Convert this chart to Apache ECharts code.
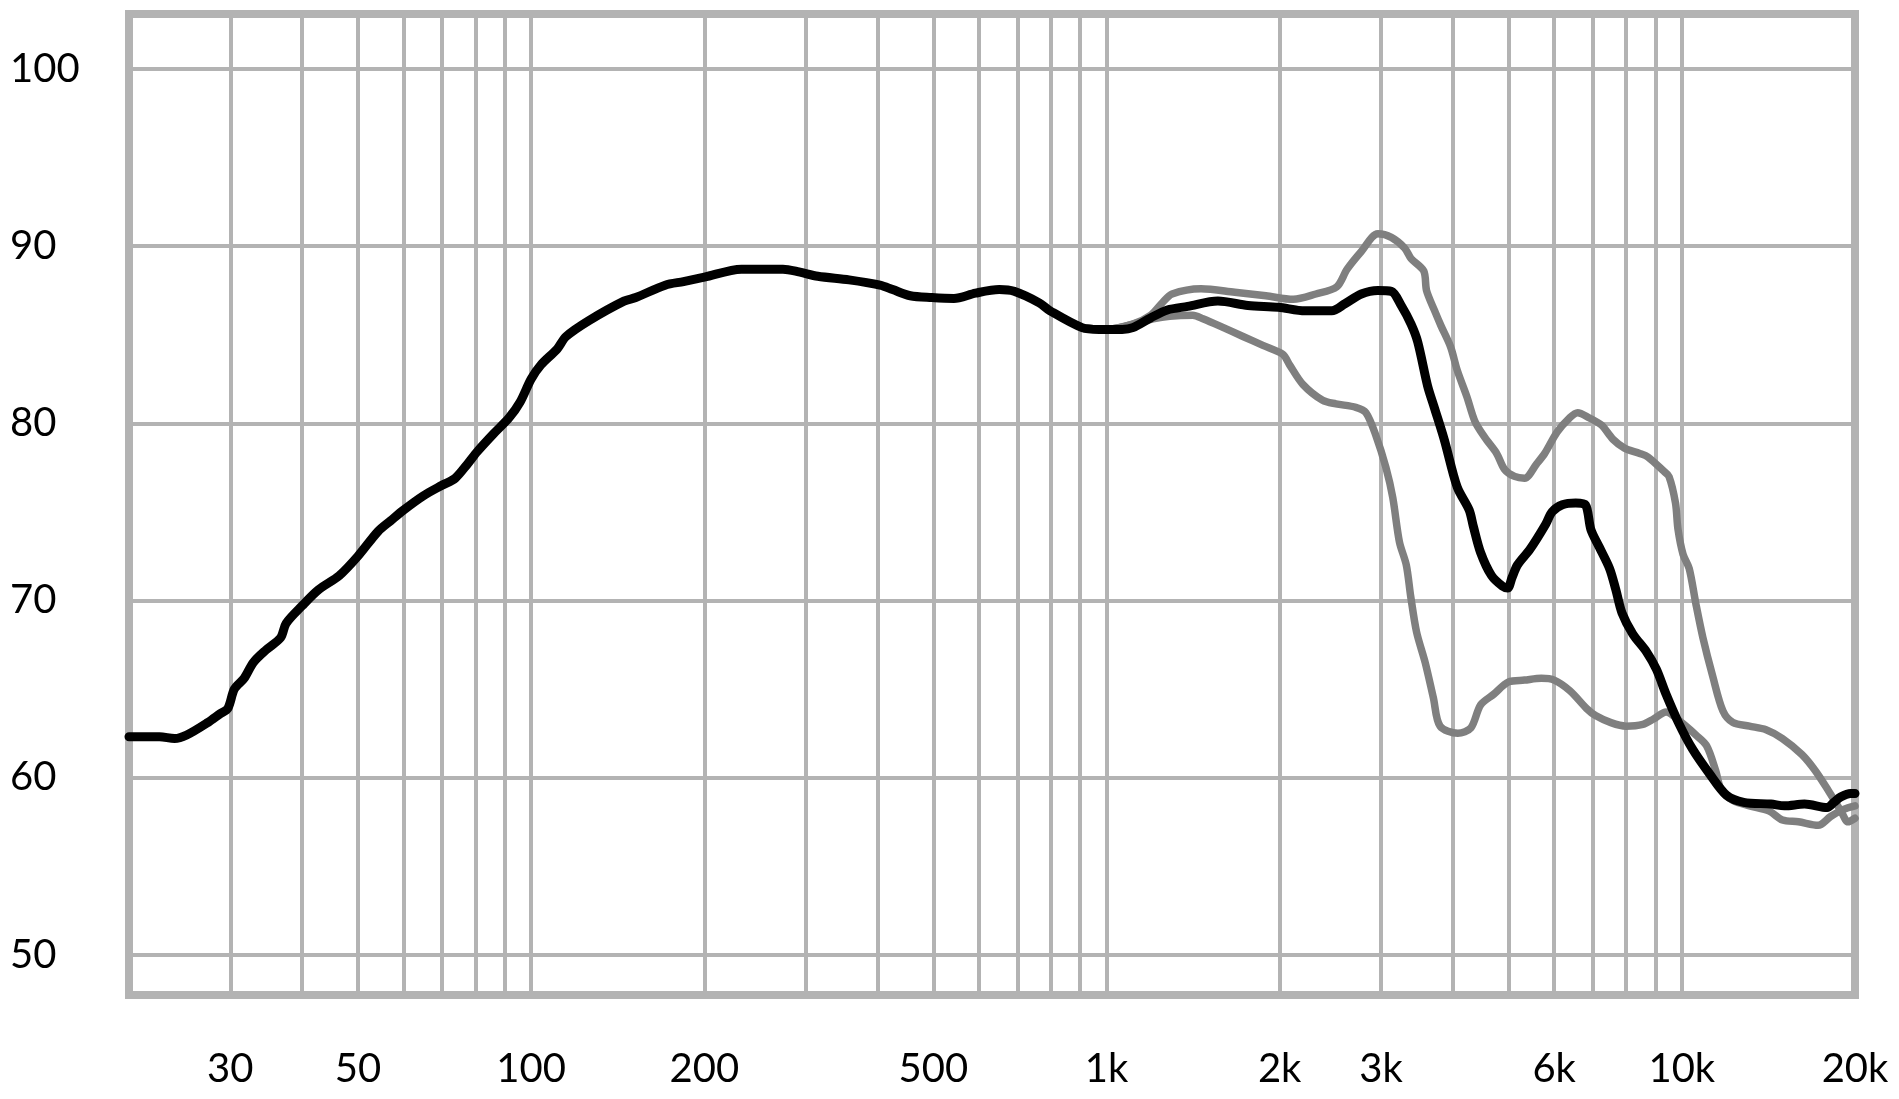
<!DOCTYPE html>
<html>
<head>
<meta charset="utf-8">
<script src="https://cdn.jsdelivr.net/npm/echarts@6/dist/echarts.min.js"></script>
<style>
html,body{margin:0;padding:0;background:#fff;}
#chart{width:1899px;height:1099px;}
</style>
</head>
<body>
<div id="chart"></div>
<script>
// ---- data (frequency in Hz, level in dB) ----
const blackFreq = [20,22.6,24,25.2,27.4,28.8,29.7,30.5,31.7,32.9,34.6,36.7,37.5,40,42.7,46.4,50,54.2,57,60,64.9,70,73.8,77.5,80.6,86,91.5,95.7,100,104,111,115,126,145,152,171,184,200,232,274,292,315,357,404,425,456,497,543,592,651,691,764,798,907,971,1065,1111,1193,1276,1384,1562,1762,1990,2213,2464,2597,2773,2963,3127,3253,3384,3475,3616,3713,3863,4070,4270,4340,4470,4670,4880,4980,5070,5180,5450,5800,5950,6200,6540,6800,6950,7190,7490,7680,7870,8220,8680,9035,9390,9900,10440,11180,11960,12810,14280,15080,16340,17890,18380,18880,19660,20000];
const blackDb   = [62.3,62.3,62.2,62.4,63.1,63.6,63.9,65.0,65.6,66.5,67.2,67.9,68.7,69.7,70.6,71.4,72.5,73.9,74.5,75.1,75.9,76.5,76.9,77.7,78.4,79.4,80.3,81.2,82.5,83.3,84.2,84.9,85.8,86.9,87.1,87.8,88.0,88.25,88.7,88.7,88.55,88.3,88.1,87.8,87.55,87.2,87.1,87.05,87.35,87.55,87.45,86.8,86.35,85.4,85.3,85.3,85.4,85.95,86.4,86.6,86.9,86.65,86.55,86.35,86.35,86.75,87.3,87.5,87.45,86.65,85.6,84.6,82.1,80.9,79.1,76.4,75.1,74.2,72.7,71.4,70.8,70.7,71.3,72.0,72.9,74.3,75.0,75.4,75.5,75.4,74.0,73.0,71.8,70.6,69.3,68.1,67.1,66.1,64.7,63.0,61.6,60.2,59.0,58.6,58.5,58.4,58.5,58.3,58.6,58.9,59.1,59.1];

const grayAFreq = [907,1000,1111,1193,1250,1300,1460,1671,1893,2112,2312,2513,2620,2773,2963,3127,3297,3384,3560,3600,3713,3815,3965,4070,4231,4370,4545,4766,4919,5120,5330,5590,5778,6070,6380,6590,6910,7250,7590,7950,8450,8730,9300,9500,9750,9850,10050,10300,10580,10880,11320,11790,12270,13110,14010,14960,16170,17050,17950,18910,19450,20000];
const grayADb   = [85.4,85.3,85.6,86.1,86.8,87.3,87.6,87.4,87.2,87.0,87.3,87.7,88.7,89.7,90.7,90.5,89.9,89.3,88.6,87.5,86.4,85.5,84.3,83.0,81.5,80.1,79.2,78.3,77.4,77.0,76.9,77.7,78.3,79.5,80.3,80.6,80.3,79.9,79.1,78.6,78.3,78.1,77.3,77.0,75.5,74.0,72.6,71.8,69.8,67.9,65.7,63.75,63.1,62.9,62.7,62.2,61.3,60.4,59.3,58.1,57.5,57.7];

const grayBFreq = [907,1000,1111,1205,1288,1413,1471,1572,1727,1870,2025,2081,2194,2375,2505,2713,2824,2940,3060,3145,3230,3320,3380,3460,3580,3700,3800,4080,4300,4470,4710,5000,5330,5700,6000,6390,6830,7080,7530,8000,8560,8930,9390,9900,10580,11040,11450,11710,12270,13110,14190,14960,15950,17260,18140,19100,20000];
const grayBDb   = [85.4,85.3,85.6,85.9,86.05,86.1,85.9,85.5,84.9,84.4,83.9,83.3,82.2,81.3,81.1,80.9,80.6,79.3,77.5,75.8,73.3,72.0,70.2,68.2,66.5,64.5,62.9,62.5,62.8,64.1,64.7,65.4,65.5,65.6,65.5,64.9,63.9,63.5,63.1,62.9,63.0,63.3,63.7,63.2,62.4,61.8,60.4,59.3,58.7,58.4,58.1,57.6,57.5,57.3,57.8,58.2,58.4];

// ---- ticks ----
const yTickValues = [50,60,70,80,90,100];
const xLabelValues = [30,50,100,200,500,1000,2000,3000,6000,10000,20000];
const xGridValues = [30,40,50,60,70,80,90,100,200,300,400,500,600,700,800,900,1000,2000,3000,4000,5000,6000,7000,8000,9000,10000];

const zip = (a,b) => a.map((v,i) => [v,b[i]]);
const GRID = '#b3b3b3';
const FONT = 'Lato';

const chart = echarts.init(document.getElementById('chart'), null, {renderer:'canvas'});
chart.setOption({
  animation:false,
  backgroundColor:'#ffffff',
  grid:{left:129, top:14, right:44, bottom:104, show:true, borderColor:GRID, borderWidth:8, backgroundColor:'transparent'},
  xAxis:{
    type:'log', logBase:10, min:20, max:20000,
    axisLine:{show:false}, axisTick:{show:false}, splitLine:{show:false}, minorSplitLine:{show:false},
    axisLabel:{
      customValues:xLabelValues, margin:54, fontSize:40, fontFamily:FONT, color:'#000',
      formatter:v => v>=1000 ? (v/1000)+'k' : String(v)
    }
  },
  yAxis:{
    type:'value', min:47.72, max:103.11,
    axisLine:{show:false}, axisTick:{show:false}, splitLine:{show:false},
    axisLabel:{customValues:yTickValues, align:'left', margin:119, fontSize:40, fontFamily:FONT, color:'#000'}
  },
  series:[
    {
      type:'line', name:'grid', data:[], z:1, silent:true,
      markLine:{
        z:1, silent:true, symbol:['none','none'], label:{show:false},
        lineStyle:{color:GRID, width:4, type:'solid'},
        emphasis:{disabled:true},
        data: xGridValues.map(v => ({xAxis:v})).concat(yTickValues.map(v => ({yAxis:v})))
      }
    },
    {type:'line', name:'off-axis B', data:zip(grayBFreq,grayBDb), showSymbol:false, symbol:'none', smooth:0.3, z:3,
      lineStyle:{color:'#7f7f7f', width:7.5, cap:'round', join:'round'}},
    {type:'line', name:'off-axis A', data:zip(grayAFreq,grayADb), showSymbol:false, symbol:'none', smooth:0.3, z:4,
      lineStyle:{color:'#7f7f7f', width:7.5, cap:'round', join:'round'}},
    {type:'line', name:'on-axis', data:zip(blackFreq,blackDb), showSymbol:false, symbol:'none', smooth:0.3, z:5,
      lineStyle:{color:'#000000', width:9, cap:'round', join:'round'}}
  ]
});
</script>
</body>
</html>
